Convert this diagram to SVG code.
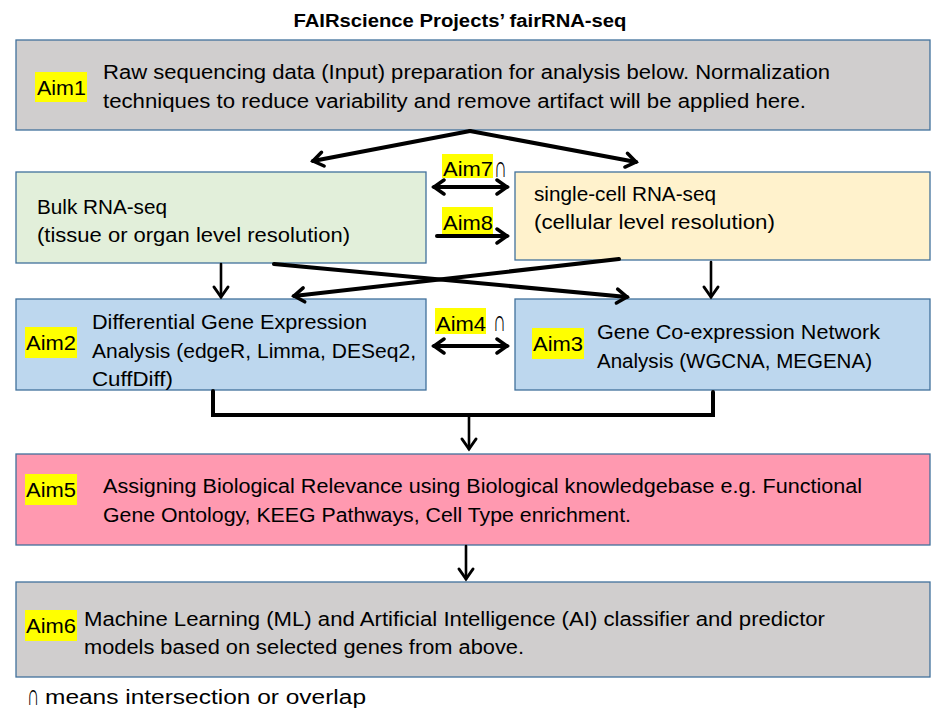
<svg xmlns="http://www.w3.org/2000/svg" width="946" height="715" viewBox="0 0 946 715">
<style>
  .box { stroke: #41719c; stroke-width: 1.3; }
  .t { font-family: "Liberation Sans", Arial, sans-serif; font-size: 20px; fill: #000; }
  .hl { fill: #ffff00; }
  .c { fill: none; stroke: #000; stroke-width: 4; stroke-linecap: round; }
  .c2 { fill: none; stroke: #000; stroke-width: 2.6; stroke-linecap: round; }
</style>
<defs>
  <marker id="ah" viewBox="0 0 16 20" refX="13" refY="10" markerWidth="16" markerHeight="20" markerUnits="userSpaceOnUse" orient="auto-start-reverse">
    <path d="M3,3 L13,10 L3,17" fill="none" stroke="#000" stroke-width="3.5" stroke-linecap="round" stroke-linejoin="miter"/>
  </marker>
  <marker id="ahs" viewBox="0 0 16 20" refX="13" refY="10" markerWidth="16" markerHeight="20" markerUnits="userSpaceOnUse" orient="auto-start-reverse">
    <path d="M3,3 L13,10 L3,17" fill="none" stroke="#000" stroke-width="3" stroke-linecap="round"/>
  </marker>
</defs>
<rect width="946" height="715" fill="#fff"/>
<text x="460" y="27" text-anchor="middle" class="t" style="font-weight:bold;font-size:18px" textLength="333" lengthAdjust="spacingAndGlyphs">FAIRscience Projects’ fairRNA-seq</text>

<g id="aim1">
  <rect class="box" x="16" y="40" width="914" height="90" fill="#d0cece"/>
  <rect class="hl" x="35" y="72" width="52" height="30"/>
  <text class="t" x="37" y="95" textLength="49" lengthAdjust="spacingAndGlyphs">Aim1</text>
  <text class="t" x="103" y="79" textLength="727" lengthAdjust="spacingAndGlyphs">Raw sequencing data (Input) preparation for analysis below. Normalization</text>
  <text class="t" x="103" y="108" textLength="703" lengthAdjust="spacingAndGlyphs">techniques to reduce variability and remove artifact will be applied here.</text>
</g>

<g id="bulk">
  <rect class="box" x="16" y="172" width="410" height="91" fill="#e2efda"/>
  <text class="t" x="37" y="214" textLength="130" lengthAdjust="spacingAndGlyphs">Bulk RNA-seq</text>
  <text class="t" x="37" y="242" textLength="313" lengthAdjust="spacingAndGlyphs">(tissue or organ level resolution)</text>
</g>

<g id="singlecell">
  <rect class="box" x="515" y="172" width="415" height="88" fill="#fff2cc"/>
  <text class="t" x="534" y="201" textLength="182" lengthAdjust="spacingAndGlyphs">single-cell RNA-seq</text>
  <text class="t" x="534" y="229" textLength="241" lengthAdjust="spacingAndGlyphs">(cellular level resolution)</text>
</g>

<g id="aim7">
  <rect class="hl" x="442" y="154" width="51" height="24"/>
  <text class="t" x="443" y="176" textLength="50" lengthAdjust="spacingAndGlyphs">Aim7</text>
  <text class="t" transform="translate(494,177) scale(0.9,1.5)">∩</text>
</g>

<g id="aim8">
  <rect class="hl" x="442" y="207" width="51" height="28"/>
  <text class="t" x="443" y="230" textLength="50" lengthAdjust="spacingAndGlyphs">Aim8</text>
</g>

<g id="aim2">
  <rect class="box" x="16" y="299" width="410" height="91" fill="#bdd7ee"/>
  <rect class="hl" x="25" y="327" width="52" height="31"/>
  <text class="t" x="26" y="350" textLength="50" lengthAdjust="spacingAndGlyphs">Aim2</text>
  <text class="t" x="92" y="329" textLength="275" lengthAdjust="spacingAndGlyphs">Differential Gene Expression</text>
  <text class="t" x="92" y="358" textLength="324" lengthAdjust="spacingAndGlyphs">Analysis (edgeR, Limma, DESeq2,</text>
  <text class="t" x="92" y="386" textLength="81" lengthAdjust="spacingAndGlyphs">CuffDiff)</text>
</g>

<g id="aim4">
  <rect class="hl" x="435" y="308" width="51" height="26"/>
  <text class="t" x="436" y="331" textLength="50" lengthAdjust="spacingAndGlyphs">Aim4</text>
  <text class="t" transform="translate(493,331) scale(0.9,1.5)">∩</text>
</g>

<g id="aim3">
  <rect class="box" x="515" y="299" width="415" height="91" fill="#bdd7ee"/>
  <rect class="hl" x="532" y="328" width="52" height="31"/>
  <text class="t" x="533" y="351" textLength="50" lengthAdjust="spacingAndGlyphs">Aim3</text>
  <text class="t" x="597" y="339" textLength="283" lengthAdjust="spacingAndGlyphs">Gene Co-expression Network</text>
  <text class="t" x="597" y="368" textLength="275" lengthAdjust="spacingAndGlyphs">Analysis (WGCNA, MEGENA)</text>
</g>

<g id="aim5">
  <rect class="box" x="16" y="454" width="914" height="91" fill="#ff99b0"/>
  <rect class="hl" x="25" y="474" width="52" height="31"/>
  <text class="t" x="26" y="497" textLength="50" lengthAdjust="spacingAndGlyphs">Aim5</text>
  <text class="t" x="103" y="493" textLength="759" lengthAdjust="spacingAndGlyphs">Assigning Biological Relevance using Biological knowledgebase e.g. Functional</text>
  <text class="t" x="103" y="522" textLength="528" lengthAdjust="spacingAndGlyphs">Gene Ontology, KEEG Pathways, Cell Type enrichment.</text>
</g>

<g id="aim6">
  <rect class="box" x="16" y="582" width="914" height="95" fill="#d0cece"/>
  <rect class="hl" x="25" y="610" width="52" height="31"/>
  <text class="t" x="26" y="633" textLength="50" lengthAdjust="spacingAndGlyphs">Aim6</text>
  <text class="t" x="84" y="626" textLength="741" lengthAdjust="spacingAndGlyphs">Machine Learning (ML) and Artificial Intelligence (AI) classifier and predictor</text>
  <text class="t" x="84" y="654" textLength="440" lengthAdjust="spacingAndGlyphs">models based on selected genes from above.</text>
</g>

<g id="footnote">
  <text class="t" transform="translate(27,705) scale(0.85,1.5)">∩</text>
  <text class="t" x="45" y="704" textLength="321" lengthAdjust="spacingAndGlyphs">means intersection or overlap</text>
</g>

<g id="connectors">
  <path class="c" d="M470,131 L313,161" marker-end="url(#ah)"/>
  <path class="c" d="M470,131 L636,162" marker-end="url(#ah)"/>
  <path class="c" d="M434,187 L507,187" marker-start="url(#ah)" marker-end="url(#ah)"/>
  <path class="c" d="M437,236 L507,236" marker-end="url(#ah)"/>
  <path class="c2" d="M221,264 L221,297" marker-end="url(#ahs)"/>
  <path class="c2" d="M711,262 L711,297" marker-end="url(#ahs)"/>
  <path class="c" d="M274,264 L627,297" marker-end="url(#ah)"/>
  <path class="c" d="M619,259 L294,296" marker-end="url(#ah)"/>
  <path class="c" d="M434,346 L507,346" marker-start="url(#ah)" marker-end="url(#ah)"/>
  <path class="c" d="M213,391 L213,415 L713,415 L713,392" stroke-linecap="butt"/>
  <path class="c2" d="M469,415 L469,449" marker-end="url(#ahs)"/>
  <path class="c2" d="M466,546 L466,579" marker-end="url(#ahs)"/>
</g>
</svg>
